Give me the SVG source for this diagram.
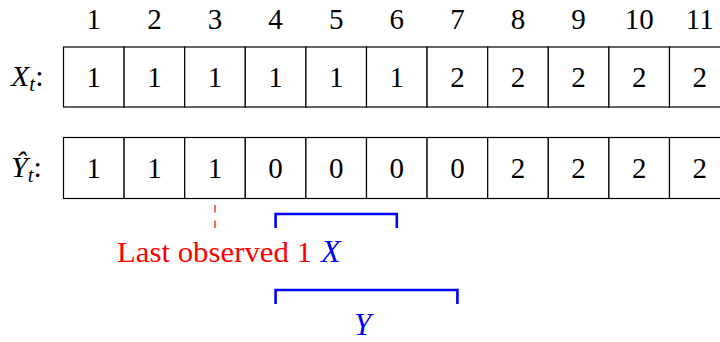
<svg xmlns="http://www.w3.org/2000/svg" width="720" height="342" viewBox="0 0 720 342">
<style>
.cell{fill:#fff;stroke:#000;stroke-width:1.2}
.num{font-family:"Liberation Serif",serif;font-size:29px;text-anchor:middle;fill:#000}
.lab{font-family:"Liberation Serif",serif;font-size:30px;fill:#000}
.it{font-style:italic}
.br{fill:none;stroke:#0000ff;stroke-width:2.6}
.blue{fill:#0000ff}
.red{fill:#ff0000}
</style>
<rect width="720" height="342" fill="#fff"/>
<g id="indices" class="num">
<text x="93.8" y="29">1</text><text x="154.4" y="29">2</text><text x="215" y="29">3</text><text x="275.6" y="29">4</text><text x="336.2" y="29">5</text><text x="396.8" y="29">6</text><text x="457.4" y="29">7</text><text x="518" y="29">8</text><text x="578.6" y="29">9</text><text x="639.2" y="29">10</text><text x="699.8" y="29">11</text>
</g>
<g id="label-x"><text class="lab" x="11" y="86"><tspan class="it">X</tspan><tspan class="it" font-size="21" dy="5">t</tspan><tspan dy="-5">:</tspan></text></g>
<g id="label-y"><text class="lab" x="11" y="177"><tspan class="it">Ŷ</tspan><tspan class="it" font-size="21" dy="5">t</tspan><tspan dy="-5">:</tspan></text></g>
<g id="row-x">
<g id="x1"><rect class="cell" x="63.5" y="47" width="60.6" height="60"/><text class="num" x="93.8" y="87">1</text></g>
<g id="x2"><rect class="cell" x="124.1" y="47" width="60.6" height="60"/><text class="num" x="154.4" y="87">1</text></g>
<g id="x3"><rect class="cell" x="184.7" y="47" width="60.6" height="60"/><text class="num" x="215" y="87">1</text></g>
<g id="x4"><rect class="cell" x="245.3" y="47" width="60.6" height="60"/><text class="num" x="275.6" y="87">1</text></g>
<g id="x5"><rect class="cell" x="305.9" y="47" width="60.6" height="60"/><text class="num" x="336.2" y="87">1</text></g>
<g id="x6"><rect class="cell" x="366.5" y="47" width="60.6" height="60"/><text class="num" x="396.8" y="87">1</text></g>
<g id="x7"><rect class="cell" x="427.1" y="47" width="60.6" height="60"/><text class="num" x="457.4" y="87">2</text></g>
<g id="x8"><rect class="cell" x="487.7" y="47" width="60.6" height="60"/><text class="num" x="518" y="87">2</text></g>
<g id="x9"><rect class="cell" x="548.3" y="47" width="60.6" height="60"/><text class="num" x="578.6" y="87">2</text></g>
<g id="x10"><rect class="cell" x="608.9" y="47" width="60.6" height="60"/><text class="num" x="639.2" y="87">2</text></g>
<g id="x11"><rect class="cell" x="669.5" y="47" width="60.6" height="60"/><text class="num" x="699.8" y="87">2</text></g>
</g>
<g id="row-y">
<g id="y1"><rect class="cell" x="63.5" y="137.5" width="60.6" height="61"/><text class="num" x="93.8" y="178">1</text></g>
<g id="y2"><rect class="cell" x="124.1" y="137.5" width="60.6" height="61"/><text class="num" x="154.4" y="178">1</text></g>
<g id="y3"><rect class="cell" x="184.7" y="137.5" width="60.6" height="61"/><text class="num" x="215" y="178">1</text></g>
<g id="y4"><rect class="cell" x="245.3" y="137.5" width="60.6" height="61"/><text class="num" x="275.6" y="178">0</text></g>
<g id="y5"><rect class="cell" x="305.9" y="137.5" width="60.6" height="61"/><text class="num" x="336.2" y="178">0</text></g>
<g id="y6"><rect class="cell" x="366.5" y="137.5" width="60.6" height="61"/><text class="num" x="396.8" y="178">0</text></g>
<g id="y7"><rect class="cell" x="427.1" y="137.5" width="60.6" height="61"/><text class="num" x="457.4" y="178">0</text></g>
<g id="y8"><rect class="cell" x="487.7" y="137.5" width="60.6" height="61"/><text class="num" x="518" y="178">2</text></g>
<g id="y9"><rect class="cell" x="548.3" y="137.5" width="60.6" height="61"/><text class="num" x="578.6" y="178">2</text></g>
<g id="y10"><rect class="cell" x="608.9" y="137.5" width="60.6" height="61"/><text class="num" x="639.2" y="178">2</text></g>
<g id="y11"><rect class="cell" x="669.5" y="137.5" width="60.6" height="61"/><text class="num" x="699.8" y="178">2</text></g>
</g>
<g id="connectors">
<line x1="215" y1="205" x2="215" y2="229" stroke="#ff0000" stroke-width="1.2" stroke-dasharray="7.5,8"/>
<path class="br" d="M275.6,228 V214 H396.8 V228"/>
<path class="br" d="M275.6,304 V290 H457.4 V304"/>
</g>
<g id="annotations" font-family="Liberation Serif, serif" font-size="29">
<text class="red" x="117" y="262" textLength="195" lengthAdjust="spacingAndGlyphs">Last observed 1</text>
<text class="blue" x="321" y="262" font-size="32" font-style="italic">X</text>
<text class="blue" x="354" y="335" font-size="31" font-style="italic">Y</text>
</g>
</svg>
